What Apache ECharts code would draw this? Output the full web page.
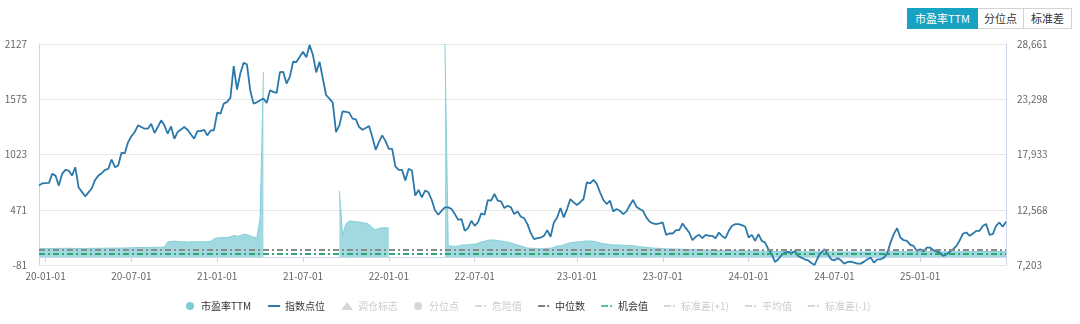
<!DOCTYPE html>
<html>
<head>
<meta charset="utf-8">
<script src="https://cdn.jsdelivr.net/npm/echarts@6/dist/echarts.min.js"></script>
<style>
  html, body { margin: 0; padding: 0; background: #fff; }
  #chart { width: 1080px; height: 324px; }
  .tabs { position: absolute; top: 8px; left: 907px; display: flex; font: 11px "Microsoft YaHei", "Noto Sans CJK SC", sans-serif; }
  .tab { box-sizing: border-box; height: 21px; line-height: 19px; text-align: center; border: 1px solid #d3d3d3; color: #333; background: #fff; }
  .tab + .tab { border-left: none; }
  .tab.on { background: #17a2c1; border-color: #17a2c1; color: #fff; }
</style>
</head>
<body>
<div id="chart"></div>
<div class="tabs">
  <div class="tab on" style="width:71px">市盈率TTM</div>
  <div class="tab" style="width:46px">分位点</div>
  <div class="tab" style="width:48px">标准差</div>
</div>
<script>
// Half-year boundaries shown on the date axis
const halfYearLabels = ['2020-01-01', '2020-07-01', '2021-01-01', '2021-07-01', '2022-01-01',
  '2022-07-01', '2023-01-01', '2023-07-01', '2024-01-01', '2024-07-01', '2025-01-01'];
// Samples per half-year period (the last period runs to the end of the data)
const samplesPerPeriod = [26, 26, 26, 26, 26, 31, 26, 26, 26, 26, 27];
const leadDates = ['2019-12-18', '2019-12-25'];

// Left axis (PE TTM) and right axis (index level) tick labels
const peTicks = [-81, 471, 1023, 1575, 2127];
const indexTicks = [7203, 12568, 17933, 23298, 28661];

// Reference levels of the PE band
const medianPE = 76;
const opportunityPE = 36;

// PE TTM (gaps are periods without a valid value)
const peValues = [
  84, 84, 85, 85, 84, 84, 85, 85, 86, 86, 85, 85, 84, 84, 84, 85, 85, 86, 86, 86,
  87, 87, 87, 88, 88, 88, 89, 90, 91, 92, 93, 93, 94, 95, 95, 96, 96, 97, 98,
  150, 155, 158, 155, 150, 152, 148, 150, 152, 150, 152, 150, 152, 155,
  180, 190, 192, 193, 195, 200, 215, 205, 212, 225, 222, 210, 195, 195, 380, 1844,
  null, null, null, null, null, null, null, null, null, null, null,
  null, null, null, null, null, null, null, null, null, null, null,
  661, 219, 330, 360, 355, 352, 348, 342, 338, 325, 290, 270, 285, 290, 292, 288,
  null, null, null, null, null, null, null, null,
  null, null, null, null, null, null, null, null,
  2127, 112, 108, 105, 108,
  119, 119, 122, 126, 126, 136, 149, 156, 166, 169,
  169, 162, 159, 152, 149, 139, 129, 119, 109, 99,
  89, 86, 86, 82, 82, 82, 86, 86, 96, 109,
  112, 119, 132, 142, 146, 149, 152, 156, 159, 159,
  156, 149, 139, 132, 129, 122, 119, 119, 119, 116,
  112, 116, 112, 106, 102, 99, 96, 92, 89, 86,
  86, 82,
  80, 80, 79, 78, 77, 76, 75, 74, 73, 72,
  71, 70, 69, 68, 67, 66, 65, 64, 63, 62,
  62, 61, 60, 60, 59, 58, 58, 57, 57, 56,
  56, 55, 55, 54, 54, 54, 53, 53, 53, 52,
  52, 52, 52, 51, 51, 51, 51, 50, 50, 50,
  50, 50, 50, 49, 49, 49, 49, 49, 49, 49,
  49, 49, 49, 49, 49, 50, 50, 50, 51, 52,
  53, 53, 52, 52, 52, 51, 51, 51, 51, 51,
  51, 51, 51, 50, 50, 50, 50, 51, 51, 52,
  52, 52, 52, 53, 53, 53, 54, 54, 53, 53,
  54, 54, 54, 55
];

// Index level
const indexValues = [
  14910, 15138, 15160, 15170, 16048, 15885, 14910, 16048, 16438, 16373,
  15885, 16698, 14748, 14300, 13870, 14260, 14650, 15463, 15885, 16113,
  16438, 16536, 17446, 16698, 16861, 18096, 18064, 19136, 19700, 20112,
  20762, 20600, 20437, 20437, 20925, 20014, 20599, 21250, 20762, 19949,
  20664, 19461, 20112, 20350, 20599, 20339, 19900, 19461, 20209, 20209,
  20339, 19787, 20274, 20274, 21997, 21900, 22875, 23038, 23428, 26516,
  24240, 25801, 26841, 26679, 24175, 22875, 23000, 23200, 23363, 22940,
  24175, 24013, 23916, 25931, 25963, 24826, 25476, 26939, 26906, 27427,
  27914, 27361, 28564, 27589, 25899, 26939, 25313, 23688, 23363, 22973,
  20112, 20762, 22127, 22062, 21997, 21412, 21347, 20600, 20339, 20500,
  20697, 19624, 18389, 19136, 19787, 19234, 18486, 18486, 16763, 16438,
  16438, 15398, 16536, 16373, 13935, 14488, 13773, 14422, 14260, 13513,
  12500, 12082, 12472, 12797, 12797, 12634, 12147, 11594, 11659, 10521,
  10781, 11496, 11009, 11334, 12212, 12082, 13513, 13448, 14097, 13448,
  13383, 12732, 12959, 12797, 12147, 12407, 11887, 11757, 11171, 10300,
  9709, 9806, 9871, 10033, 10586, 9936, 11334, 11822, 12732, 11822,
  12634, 13610, 13285, 13025, 13300, 13610, 15235, 15138, 15463, 15073,
  14260, 13513, 13122, 13448, 12407, 12634, 12472, 12147, 12407, 13000,
  13513, 12862, 12634, 12472, 11822, 11431, 11236, 11171, 11250, 11334,
  10131, 10261, 10261, 10586, 10586, 11236, 10781, 10358, 9611, 9936,
  10131, 9806, 10131, 10033, 10033, 9806, 10358, 10000, 9806, 10521,
  11009, 11171, 11171, 11074, 10911, 9871, 10131, 9546, 10196, 9546,
  9383, 8734, 8246, 7498, 7758, 8181, 8408, 8473, 8311, 8571,
  8083, 7920, 7758, 7660, 7400, 7210, 7920, 8408, 8734, 8246,
  7758, 7660, 7855, 7660, 7335, 7498, 7530, 7433, 7335, 7335,
  7530, 7758, 7920, 7433, 7758, 7758, 7920, 8311, 9383, 10200,
  10781, 9871, 9611, 9546, 9156, 9058, 8571, 8734, 8506, 8896,
  8896, 8636, 8506, 8408, 8083, 8246, 8506, 8734, 9058, 9611,
  10261, 10358, 10033, 10261, 10521, 10521, 11009, 11171, 10131, 10196,
  11009, 11334, 10911, 11400
];

// Build the sample dates: each half-year period is split into evenly spaced samples
function buildDates() {
  const out = leadDates.slice();
  const day = 86400000;
  const last = halfYearLabels.length - 1;
  for (let p = 0; p <= last; p++) {
    const start = Date.parse(halfYearLabels[p] + 'T00:00:00Z');
    const y = +halfYearLabels[p].slice(0, 4), m = +halfYearLabels[p].slice(5, 7);
    const end = Date.UTC(m === 1 ? y : y + 1, m === 1 ? 6 : 0, 1);
    const n = samplesPerPeriod[p];
    const stepDays = (end - start) / day / n;
    for (let k = 0; k < n; k++) {
      out.push(new Date(start + Math.round(k * stepDays) * day).toISOString().slice(0, 10));
    }
  }
  return out;
}
const dates = buildDates();

const FONT = '"Microsoft YaHei", "Noto Sans CJK SC", sans-serif';
const axisColor = '#ccd6eb';
const labelColor = '#666';
const dashDot = [6, 3, 2, 3];
const showHalfYear = (idx, val) => halfYearLabels.indexOf(val) >= 0;
// Legend marks: a plain stroke for the index line, a dash + dot for reference levels
const lineIcon = name => ({ name: name, itemStyle: { opacity: 0 } });
const DASH_DOT_ICON = 'path://M0,0L0.01,0L0,0.01Z M0,3.2L7,3.2L7,4.8L0,4.8Z M9,3.2L11,3.2L11,4.8L9,4.8Z M12,8L11.99,8L12,7.99Z';
const dashIcon = name => ({ name: name, icon: DASH_DOT_ICON });

const chart = echarts.init(document.getElementById('chart'), null, { renderer: 'canvas' });
chart.setOption({
  animation: false,
  textStyle: { fontFamily: FONT },
  grid: { left: 39, right: 74, top: 44, bottom: 59, containLabel: false },
  legend: {
    left: 181, top: 296,
    itemWidth: 12, itemHeight: 8, itemGap: 16,
    textStyle: { fontSize: 10, color: '#333', fontFamily: FONT },
    inactiveColor: '#ccc',
    data: [
      { name: '市盈率TTM', icon: 'circle' },
      lineIcon('指数点位'),
      { name: '调仓标志', icon: 'triangle' },
      { name: '分位点', icon: 'circle' },
      dashIcon('危险值'),
      dashIcon('中位数'),
      dashIcon('机会值'),
      dashIcon('标准差(+1)'),
      dashIcon('平均值'),
      dashIcon('标准差(-1)')
    ],
    selected: {
      '调仓标志': false, '分位点': false, '危险值': false,
      '标准差(+1)': false, '平均值': false, '标准差(-1)': false
    }
  },
  xAxis: {
    type: 'category',
    data: dates,
    boundaryGap: false,
    axisLine: { lineStyle: { color: axisColor } },
    axisTick: { show: true, interval: showHalfYear, length: 5, lineStyle: { color: axisColor } },
    axisLabel: {
      interval: showHalfYear, color: labelColor, fontSize: 10, margin: 6,
      formatter: v => v.slice(2)
    },
    splitLine: { show: false }
  },
  yAxis: [
    {
      type: 'value', min: peTicks[0], max: peTicks[peTicks.length - 1],
      axisLine: { show: true, lineStyle: { color: axisColor } },
      axisTick: { show: false, customValues: peTicks },
      axisLabel: { color: labelColor, fontSize: 10, margin: 12, customValues: peTicks, formatter: v => String(v) },
      splitLine: { show: true, lineStyle: { color: '#e6e6e6' } }
    },
    {
      type: 'value', position: 'right', min: indexTicks[0], max: indexTicks[indexTicks.length - 1],
      axisLine: { show: true, lineStyle: { color: axisColor } },
      axisTick: { show: false, customValues: indexTicks },
      axisLabel: {
        color: labelColor, fontSize: 10, margin: 11, customValues: indexTicks,
        formatter: v => Math.round(v).toLocaleString('en-US')
      },
      splitLine: { show: false }
    }
  ],
  series: [
    {
      name: '市盈率TTM', type: 'line', yAxisIndex: 0, data: peValues,
      symbol: 'none', connectNulls: false, z: 1,
      itemStyle: { color: '#7fcfda' },
      lineStyle: { color: '#84cfd9', width: 1 },
      areaStyle: { color: '#a2d9e1', opacity: 1 }
    },
    {
      name: '指数点位', type: 'line', yAxisIndex: 1, data: indexValues,
      symbol: 'none', z: 4,
      itemStyle: { color: '#2b79aa' },
      lineStyle: { color: '#2b79aa', width: 1.8 }
    },
    { name: '调仓标志', type: 'scatter', data: [], symbol: 'triangle', itemStyle: { color: '#999' } },
    { name: '分位点', type: 'scatter', data: [], symbol: 'circle', itemStyle: { color: '#999' } },
    { name: '危险值', type: 'line', data: [], symbol: 'none', itemStyle: { color: '#e06060' }, lineStyle: { color: '#e06060', type: dashDot, width: 1.5 } },
    {
      name: '中位数', type: 'line', data: [], symbol: 'none', z: 3,
      itemStyle: { color: '#555' },
      lineStyle: { color: '#555', type: dashDot, width: 1.5 },
      markLine: {
        silent: true, symbol: 'none', label: { show: false },
        lineStyle: { color: '#8a8a8a', type: dashDot, width: 2 },
        data: [{ yAxis: medianPE }]
      }
    },
    {
      name: '机会值', type: 'line', data: [], symbol: 'none', z: 3,
      itemStyle: { color: '#2ea66f' },
      lineStyle: { color: '#2ea66f', type: dashDot, width: 1.5 },
      markLine: {
        silent: true, symbol: 'none', label: { show: false },
        lineStyle: { color: '#2ea66f', type: dashDot, width: 2 },
        data: [{ yAxis: opportunityPE }]
      }
    },
    { name: '标准差(+1)', type: 'line', data: [], symbol: 'none', itemStyle: { color: '#999' }, lineStyle: { color: '#999', type: dashDot, width: 1.5 } },
    { name: '平均值', type: 'line', data: [], symbol: 'none', itemStyle: { color: '#999' }, lineStyle: { color: '#999', type: dashDot, width: 1.5 } },
    { name: '标准差(-1)', type: 'line', data: [], symbol: 'none', itemStyle: { color: '#999' }, lineStyle: { color: '#999', type: dashDot, width: 1.5 } }
  ]
});
</script>
</body>
</html>
